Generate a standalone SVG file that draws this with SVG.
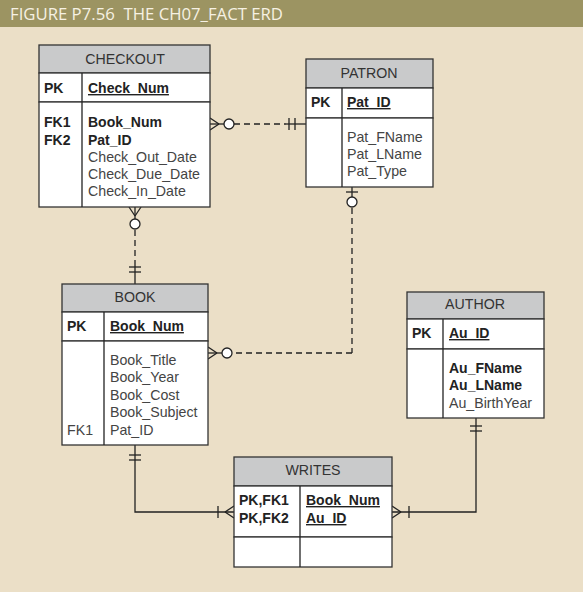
<svg xmlns="http://www.w3.org/2000/svg" width="583" height="592" viewBox="0 0 583 592">
<style>
.hd{fill:#c9cacb;stroke:#333;stroke-width:1.3}
.bx{fill:#fff;stroke:#333;stroke-width:1.3}
.ln{stroke:#222;stroke-width:1.3;fill:none}
.t{font-family:"Liberation Sans",Arial,sans-serif;font-size:14.2px;fill:#444}
.h{font-family:"Liberation Sans",Arial,sans-serif;font-size:14.2px;fill:#333;text-anchor:middle}
.b{font-family:"Liberation Sans",Arial,sans-serif;font-size:14px;fill:#222;font-weight:bold}
.u{text-decoration:underline}
.c{stroke:#222;stroke-width:1.3;fill:none}
.d{stroke-dasharray:6,4}
.o{fill:#fff;stroke:#222;stroke-width:1.3}
</style>
<rect x="0" y="0" width="583" height="592" fill="#ebdfc7"/>
<rect x="0" y="0" width="583" height="27" fill="#9c9462"/>
<text x="10" y="19.5" xml:space="preserve" font-family="'Open Sans','Liberation Sans',sans-serif" font-size="16" fill="#f6f1e3" textLength="273" lengthAdjust="spacingAndGlyphs">FIGURE P7.56  THE CH07_FACT ERD</text>

<g id="connectors">
  <!-- CHECKOUT - PATRON -->
  <line class="c d" x1="234" y1="124" x2="286" y2="124"/>
  <line class="c" x1="210" y1="124" x2="224" y2="124"/>
  <line class="c" x1="210" y1="118" x2="219" y2="124"/>
  <line class="c" x1="210" y1="130" x2="219" y2="124"/>
  <circle class="o" cx="229" cy="124" r="5"/>
  <line class="c" x1="286" y1="124" x2="306" y2="124"/>
  <line class="c" x1="289" y1="118" x2="289" y2="130"/>
  <line class="c" x1="295" y1="118" x2="295" y2="130"/>
  <!-- CHECKOUT - BOOK -->
  <line class="c" x1="135" y1="207" x2="135" y2="219"/>
  <line class="c" x1="129" y1="207" x2="135" y2="216"/>
  <line class="c" x1="141" y1="207" x2="135" y2="216"/>
  <circle class="o" cx="135" cy="224" r="5"/>
  <line class="c d" x1="135" y1="230" x2="135" y2="264"/>
  <line class="c" x1="135" y1="264" x2="135" y2="284"/>
  <line class="c" x1="129" y1="267" x2="141" y2="267"/>
  <line class="c" x1="129" y1="272" x2="141" y2="272"/>
  <!-- PATRON - BOOK -->
  <line class="c" x1="352" y1="187" x2="352" y2="197"/>
  <line class="c" x1="346" y1="192" x2="358" y2="192"/>
  <circle class="o" cx="352" cy="202" r="5"/>
  <line class="c d" x1="352" y1="208" x2="352" y2="353"/>
  <line class="c d" x1="352" y1="353" x2="232" y2="353"/>
  <line class="c" x1="208" y1="353" x2="222" y2="353"/>
  <line class="c" x1="208" y1="347" x2="217" y2="353"/>
  <line class="c" x1="208" y1="359" x2="217" y2="353"/>
  <circle class="o" cx="227" cy="353" r="5"/>
  <!-- BOOK - WRITES -->
  <polyline class="c" points="135,445 135,512 234,512"/>
  <line class="c" x1="129" y1="455" x2="141" y2="455"/>
  <line class="c" x1="129" y1="460" x2="141" y2="460"/>
  <line class="c" x1="218" y1="506" x2="218" y2="518"/>
  <line class="c" x1="234" y1="506" x2="225" y2="512"/>
  <line class="c" x1="234" y1="518" x2="225" y2="512"/>
  <!-- AUTHOR - WRITES -->
  <polyline class="c" points="476,418 476,512 392,512"/>
  <line class="c" x1="470" y1="426" x2="482" y2="426"/>
  <line class="c" x1="470" y1="431" x2="482" y2="431"/>
  <line class="c" x1="409" y1="506" x2="409" y2="518"/>
  <line class="c" x1="392" y1="506" x2="401" y2="512"/>
  <line class="c" x1="392" y1="518" x2="401" y2="512"/>
</g>

<g id="checkout">
  <rect class="hd" x="39" y="45" width="171" height="28"/>
  <rect class="bx" x="39" y="73" width="171" height="29"/>
  <rect class="bx" x="39" y="102" width="171" height="105"/>
  <line class="ln" x1="82" y1="73" x2="82" y2="207"/>
  <text class="h" x="125" y="64">CHECKOUT</text>
  <text class="b" x="44" y="93">PK</text>
  <text class="b u" x="88" y="93">Check_Num</text>
  <text class="b" x="44" y="127">FK1</text>
  <text class="b" x="44" y="145">FK2</text>
  <text class="b" x="88" y="127">Book_Num</text>
  <text class="b" x="88" y="145">Pat_ID</text>
  <text class="t" x="88" y="162">Check_Out_Date</text>
  <text class="t" x="88" y="179">Check_Due_Date</text>
  <text class="t" x="88" y="196">Check_In_Date</text>
</g>

<g id="patron">
  <rect class="hd" x="306" y="59" width="127" height="29"/>
  <rect class="bx" x="306" y="88" width="127" height="30"/>
  <rect class="bx" x="306" y="118" width="127" height="69"/>
  <line class="ln" x1="342" y1="88" x2="342" y2="187"/>
  <text class="h" x="369" y="78">PATRON</text>
  <text class="b" x="311" y="107">PK</text>
  <text class="b u" x="347" y="107">Pat_ID</text>
  <text class="t" x="347" y="142">Pat_FName</text>
  <text class="t" x="347" y="159">Pat_LName</text>
  <text class="t" x="347" y="176">Pat_Type</text>
</g>

<g id="book">
  <rect class="hd" x="62" y="284" width="146" height="28"/>
  <rect class="bx" x="62" y="312" width="146" height="29"/>
  <rect class="bx" x="62" y="341" width="146" height="104"/>
  <line class="ln" x1="104" y1="312" x2="104" y2="445"/>
  <text class="h" x="135" y="302">BOOK</text>
  <text class="b" x="67" y="331">PK</text>
  <text class="b u" x="110" y="331">Book_Num</text>
  <text class="t" x="110" y="365">Book_Title</text>
  <text class="t" x="110" y="382">Book_Year</text>
  <text class="t" x="110" y="400">Book_Cost</text>
  <text class="t" x="110" y="417">Book_Subject</text>
  <text class="t" x="67" y="435">FK1</text>
  <text class="t" x="110" y="435">Pat_ID</text>
</g>

<g id="author">
  <rect class="hd" x="407" y="292" width="137" height="27"/>
  <rect class="bx" x="407" y="319" width="137" height="30"/>
  <rect class="bx" x="407" y="349" width="137" height="69"/>
  <line class="ln" x1="443" y1="319" x2="443" y2="418"/>
  <text class="h" x="475" y="309">AUTHOR</text>
  <text class="b" x="412" y="338">PK</text>
  <text class="b u" x="449" y="338">Au_ID</text>
  <text class="b" x="449" y="373">Au_FName</text>
  <text class="b" x="449" y="390">Au_LName</text>
  <text class="t" x="449" y="408">Au_BirthYear</text>
</g>

<g id="writes">
  <rect class="hd" x="234" y="457" width="158" height="29"/>
  <rect class="bx" x="234" y="486" width="158" height="51"/>
  <rect class="bx" x="234" y="537" width="158" height="30"/>
  <line class="ln" x1="300" y1="486" x2="300" y2="567"/>
  <text class="h" x="313" y="475">WRITES</text>
  <text class="b" x="239" y="505">PK,FK1</text>
  <text class="b" x="239" y="523">PK,FK2</text>
  <text class="b u" x="306" y="505">Book_Num</text>
  <text class="b u" x="306" y="523">Au_ID</text>
</g>
</svg>
